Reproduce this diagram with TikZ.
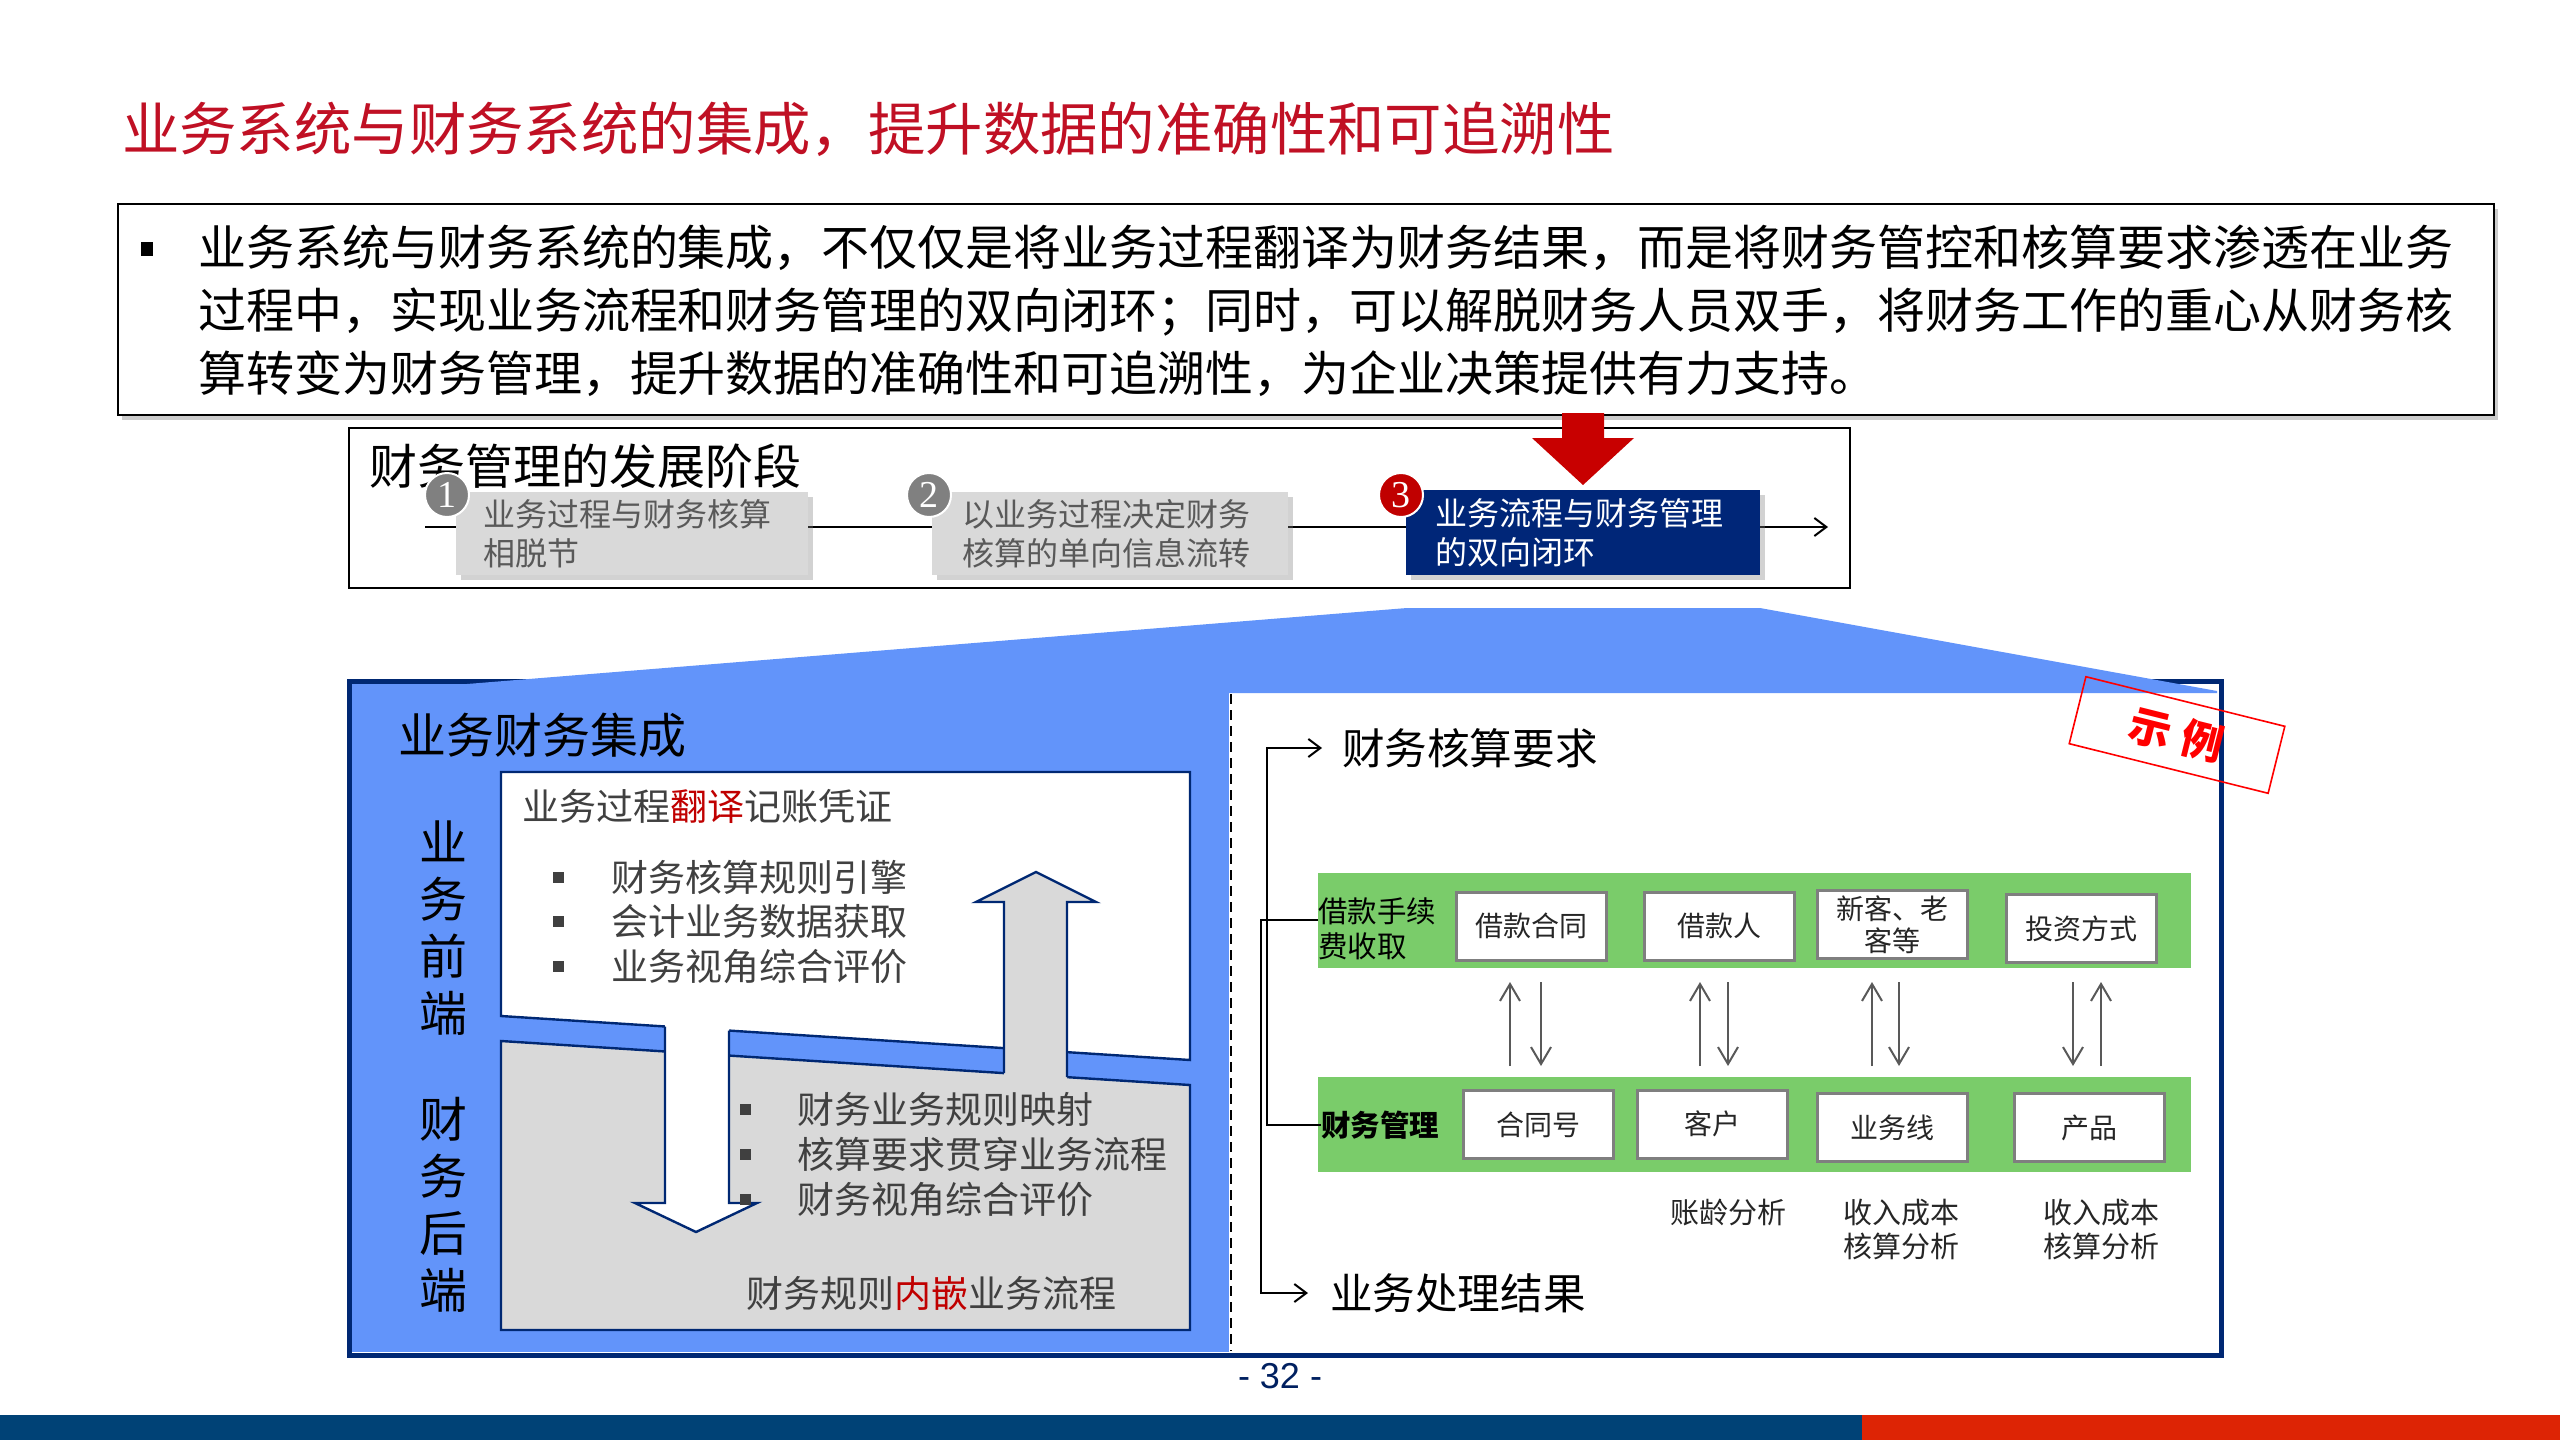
\documentclass[tikz,border=0pt]{standalone}
\usepackage{fontspec}
\setmainfont{Noto Sans CJK SC}
\newfontfamily\numfont{Liberation Serif}
\newfontfamily\latinfont{Liberation Sans}
\usetikzlibrary{arrows.meta,shadows,calc}
\definecolor{titlered}{RGB}{192,16,36}
\definecolor{navy}{RGB}{0,40,115}
\definecolor{boxnavy}{RGB}{0,38,120}
\definecolor{panelblue}{RGB}{98,148,250}
\definecolor{lgray}{RGB}{217,217,217}
\definecolor{bandgreen}{RGB}{122,204,106}
\definecolor{arrowred}{RGB}{200,0,0}
\definecolor{barblue}{RGB}{0,66,118}
\definecolor{barred}{RGB}{221,36,5}
\definecolor{txtgray}{RGB}{64,64,64}
\definecolor{stgray}{RGB}{89,89,89}
\definecolor{boxgray}{RGB}{127,127,127}
\definecolor{arrgray}{RGB}{89,89,89}
\definecolor{hlred}{RGB}{192,0,0}
\definecolor{stampred}{RGB}{255,0,0}
\definecolor{pgnavy}{RGB}{0,32,96}
\definecolor{numgray}{RGB}{128,128,128}
\newcommand{\myfs}[2]{\fontsize{#1pt}{#2pt}\selectfont}
\begin{document}
\begin{tikzpicture}[x=0.5pt,y=-0.5pt,
  every node/.style={inner sep=0pt, outer sep=0pt},
  stagegray/.style={fill=lgray, text=stgray, minimum height=41.5pt, align=left,
    font=\myfs{16}{19.5}, drop shadow={shadow xshift=2.5pt, shadow yshift=-2.5pt, opacity=0.35}},
  numc/.style={circle, minimum size=22pt, draw=white, line width=1pt, text=white,
    font=\numfont\myfs{19}{19}},
  bul/.style={fill=txtgray, minimum width=5.5pt, minimum height=5.5pt},
  wbox/.style={draw=boxgray, line width=1.5pt, fill=white, minimum width=75pt,
    minimum height=34pt, font=\myfs{14}{16}, align=center, text=black!85},
  garr/.style={draw=arrgray, line width=1pt, -{Straight Barb[length=8.5pt,width=10pt]}},
  blk/.style={draw=black, line width=1pt, -{Straight Barb[length=6pt,width=9pt]}},
  outl/.style={draw=navy, line width=1.2pt, line join=miter}
]
\useasboundingbox (0,0) rectangle (2560,1440);
\fill[white] (0,0) rectangle (2560,1440);

% title
\node[anchor=west, text=titlered, font=\myfs{28.7}{34}] (title) at (122,129)
  {业务系统与财务系统的集成，提升数据的准确性和可追溯性};

% text box
\node[draw=black, line width=1.2pt, fill=white, minimum width=1188pt, minimum height=105.5pt,
  drop shadow={shadow xshift=2pt, shadow yshift=-2.5pt, opacity=0.4}] (tbox) at (1306,309.5) {};
\node[fill=black, minimum width=6pt, minimum height=7pt] (tbul) at (147,249) {};
\node[anchor=west, font=\myfs{24}{30}] (t1) at (198,248)
  {业务系统与财务系统的集成，不仅仅是将业务过程翻译为财务结果，而是将财务管控和核算要求渗透在业务};
\node[anchor=west, font=\myfs{24}{30}] (t2) at (198,312)
  {过程中，实现业务流程和财务管理的双向闭环；同时，可以解脱财务人员双手，将财务工作的重心从财务核};
\node[anchor=west, font=\myfs{24}{30}] (t3) at (198,374)
  {算转变为财务管理，提升数据的准确性和可追溯性，为企业决策提供有力支持。};

% stage box
\node[draw=black, line width=1pt, minimum width=750.5pt, minimum height=80pt] (sbox) at (1099.5,508) {};
\node[anchor=west, font=\myfs{24}{28}] (stitle) at (369,466) {财务管理的发展阶段};
\coordinate (tl0) at (425,527);
\coordinate (tl1) at (1828,527);
\draw[blk] (tl0) -- (tl1);
\node[stagegray, text width=149pt, inner xsep=13.5pt] (s1) at (632,533.5) {业务过程与财务核算\\相脱节};
\node[stagegray, text width=148pt, inner xsep=15pt] (s2) at (1110,533.5) {以业务过程决定财务\\核算的单向信息流转};
\node[stagegray, fill=boxnavy, text=white, text width=148pt, inner xsep=14.5pt, minimum height=42.5pt] (s3) at (1583,532.5) {业务流程与财务管理\\的双向闭环};
\node[numc, fill=numgray] (c1) at (447,495) {1};
\node[numc, fill=numgray] (c2) at (929,495) {2};
\node[numc, fill=hlred] (c3) at (1401,495) {3};

% red arrow
\fill[arrowred] (1562,413) -- (1604,413) -- (1604,438) -- (1634,438) -- (1583,485)
  -- (1532,438) -- (1562,438) -- cycle;

% lower frame
\draw[navy, line width=2.5pt] (349,681) rectangle (2221,1355);
\fill[panelblue] (352,684) rectangle (1229,1352);
\fill[panelblue] (352,693) -- (352,684) -- (467,684) -- (1407,608) -- (1760,608)
  -- (2217,691) -- (2217,693) -- cycle;
\draw[black, line width=0.8pt, dash pattern=on 5pt off 3pt] (1231,694) -- (1231,1351);

% left panel
\node[anchor=west, font=\myfs{24}{28}] (bfi) at (398,735) {业务财务集成};
\node[align=center, font=\myfs{24}{28.5}] (front) at (443,928) {业\\务\\前\\端};
\node[align=center, font=\myfs{24}{28.5}] (back) at (443,1205) {财\\务\\后\\端};

\filldraw[fill=lgray, outl] (501,1041) -- (1190,1085) -- (1190,1330) -- (501,1330) -- cycle;
\filldraw[fill=white, outl] (501,772) -- (1190,772) -- (1190,1060) -- (501,1016) -- cycle;
% down arrow (white)
\fill[white] (665,1020) -- (665,1203) -- (635,1203) -- (696,1232) -- (757,1203)
  -- (729,1203) -- (729,1024) -- cycle;
\draw[outl] (665,1026.5) -- (665,1203) -- (635,1203) -- (696,1232) -- (757,1203)
  -- (729,1203) -- (729,1030.6);
% up arrow (gray)
\fill[lgray] (1004,1080) -- (1004,902) -- (976,902) -- (1036,872) -- (1096,902)
  -- (1067,902) -- (1067,1082) -- cycle;
\draw[outl] (1004,1073.2) -- (1004,902) -- (976,902) -- (1036,872) -- (1096,902)
  -- (1067,902) -- (1067,1077.2);

\node[anchor=west, text=txtgray, font=\myfs{18.5}{22}] (trans) at (522,806)
  {业务过程\textcolor{hlred}{翻译}记账凭证};
\node[bul] (ub1) at (558,877) {};
\node[bul] (ub2) at (558,921) {};
\node[bul] (ub3) at (558,966) {};
\node[anchor=west, text=txtgray, font=\myfs{18.5}{22}] (ut1) at (611,877) {财务核算规则引擎};
\node[anchor=west, text=txtgray, font=\myfs{18.5}{22}] (ut2) at (611,921) {会计业务数据获取};
\node[anchor=west, text=txtgray, font=\myfs{18.5}{22}] (ut3) at (611,966) {业务视角综合评价};
\node[bul] (lb1) at (745,1109) {};
\node[bul] (lb2) at (745,1154) {};
\node[bul] (lb3) at (745,1199) {};
\node[anchor=west, text=txtgray, font=\myfs{18.5}{22}] (lt1) at (797,1109) {财务业务规则映射};
\node[anchor=west, text=txtgray, font=\myfs{18.5}{22}] (lt2) at (797,1154) {核算要求贯穿业务流程};
\node[anchor=west, text=txtgray, font=\myfs{18.5}{22}] (lt3) at (797,1199) {财务视角综合评价};
\node[anchor=west, text=txtgray, font=\myfs{18.5}{22}] (embed) at (746,1293)
  {财务规则\textcolor{hlred}{内嵌}业务流程};

% right panel
\node[anchor=west, font=\myfs{21.3}{25}] (req) at (1342,748) {财务核算要求};
\node[anchor=west, font=\myfs{21.3}{25}] (res) at (1330,1293) {业务处理结果};
\fill[bandgreen] (1318,873) rectangle (2191,968);
\fill[bandgreen] (1318,1077) rectangle (2191,1172);
\node[anchor=west, align=left, font=\myfs{14.75}{17.5}] (lbl1) at (1318,929) {借款手续\\费收取};
\node[anchor=west, font=\bfseries\myfs{14.75}{17.5}] (lbl2) at (1321,1125) {财务管理};
\draw[blk] (lbl2.west) -- ++(-54,0) |- ([xshift=-10pt]req.west);
\draw[blk] ([yshift=4.5pt]lbl1.west) -- ++(-57,0) |- ([xshift=-11pt]res.west);

\node[wbox] (b1) at (1531.5,926) {借款合同};
\node[wbox] (b2) at (1719.5,926) {借款人};
\node[wbox] (b3) at (1892.5,924.5) {新客、老\\客等};
\node[wbox] (b4) at (2081.5,928.5) {投资方式};
\node[wbox] (m1) at (1538.5,1124.5) {合同号};
\node[wbox] (m2) at (1712,1124) {客户};
\node[wbox] (m3) at (1892.5,1127.5) {业务线};
\node[wbox] (m4) at (2089.5,1127.5) {产品};

\draw[garr] ($(m1.north)+(-28.5,-24.5)$) -- ($(b1.south)+(-21.5,22)$);
\draw[garr] ($(b1.south)+(9.5,22)$) -- ($(m1.north)+(2.5,-24.5)$);
\draw[garr] ($(m2.north)+(-12,-24)$) -- ($(b2.south)+(-19.5,22)$);
\draw[garr] ($(b2.south)+(8.5,22)$) -- ($(m2.north)+(16,-24)$);
\draw[garr] ($(m3.north)+(-20.5,-27.5)$) -- ($(b3.south)+(-20.5,23.5)$);
\draw[garr] ($(b3.south)+(6.5,23.5)$) -- ($(m3.north)+(6.5,-27.5)$);
\draw[garr] ($(b4.south)+(-8.5,19.5)$) -- ($(m4.north)+(-16.5,-27.5)$);
\draw[garr] ($(m4.north)+(11.5,-27.5)$) -- ($(b4.south)+(19.5,19.5)$);

\node[font=\myfs{14.5}{17}, text=black!85] (l1) at (1728,1213) {账龄分析};
\node[align=center, font=\myfs{14.5}{17}, text=black!85] (l2) at (1901,1230) {收入成本\\核算分析};
\node[align=center, font=\myfs{14.5}{17}, text=black!85] (l3) at (2101,1230) {收入成本\\核算分析};

% stamp
\node[draw=stampred, line width=0.8pt, rotate=-14, minimum width=102.5pt, minimum height=34.5pt,
  text=stampred, font=\bfseries\myfs{21}{21}] (stamp) at (2177,735) {示\hspace{6pt}例};

% footer
\node[text=pgnavy, font=\latinfont\myfs{18}{20}] (pg) at (1280,1376) {- 32 -};
\fill[barblue] (0,1415) rectangle (1862,1440);
\fill[barred] (1862,1415) rectangle (2560,1440);
\end{tikzpicture}
\end{document}
